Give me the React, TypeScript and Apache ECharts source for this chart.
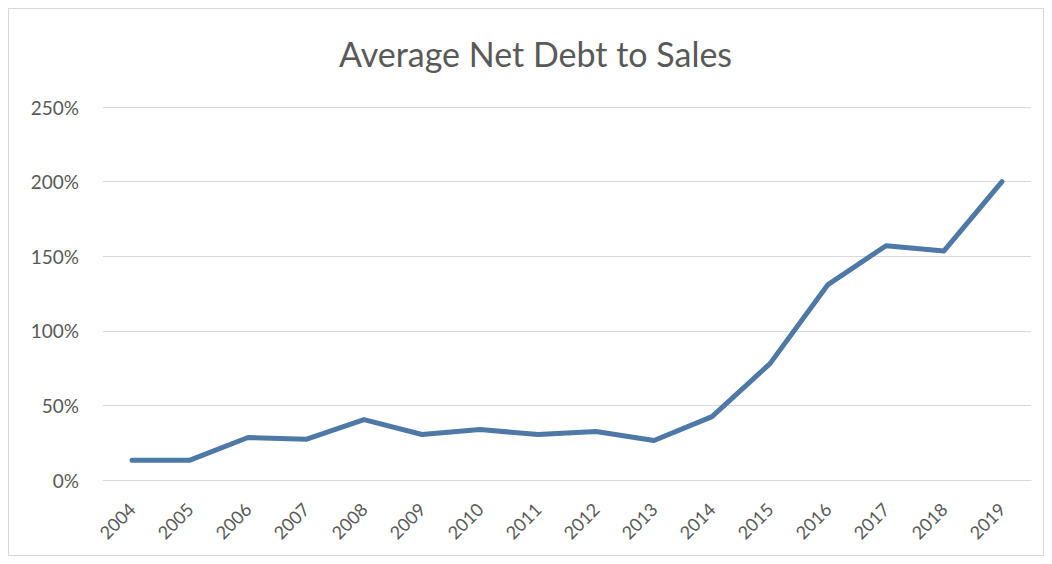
import React, { useEffect, useRef } from "react";
import * as echarts from "echarts";

const years = ["2004","2005","2006","2007","2008","2009","2010","2011","2012","2013","2014","2015","2016","2017","2018","2019"];
const netDebtToSales = [13.3, 13.3, 28.5, 27.3, 40.5, 30.5, 33.8, 30.5, 32.5, 26.5, 42.5, 78, 131, 157, 153.5, 200];
const yTicks = { min: 0, max: 250, interval: 50 };

export default function App() {
  const ref = useRef<HTMLDivElement>(null);
  useEffect(() => {
    const chart = echarts.init(ref.current!, null, { renderer: "svg" });
    chart.setOption({
      animation: false,
      backgroundColor: "#ffffff",
      title: {
        text: "Average Net Debt to Sales",
        left: 325,
        top: 22,
        textStyle: { fontFamily: "Lato", fontSize: 34, fontWeight: "normal", color: "#595959" },
      },
      grid: { left: 94, right: 12, top: 98, bottom: 75, containLabel: false },
      xAxis: {
        type: "category",
        data: years,
        boundaryGap: true,
        axisLine: { show: true, lineStyle: { color: "#d9d9d9", width: 1 } },
        axisTick: { show: false },
        axisLabel: {
          rotate: 45,
          color: "#595959",
          fontFamily: "Lato",
          fontSize: 18,
          margin: 26,
        },
      },
      yAxis: {
        type: "value",
        min: yTicks.min,
        max: yTicks.max,
        interval: yTicks.interval,
        axisLine: { show: false },
        axisTick: { show: false },
        splitLine: { lineStyle: { color: "#d9d9d9", width: 1 } },
        axisLabel: {
          color: "#595959",
          fontFamily: "Lato",
          fontSize: 19,
          margin: 24,
          formatter: (v: number) => `${v}%`,
        },
      },
      series: [
        {
          type: "line",
          data: netDebtToSales,
          symbol: "none",
          lineStyle: { color: "#4e79a7", width: 5, cap: "round", join: "round" },
        },
      ],
    });
    return () => chart.dispose();
  }, []);
  return (
    <div
      ref={ref}
      style={{ width: 1036, height: 548, border: "1px solid #d9d9d9", boxSizing: "border-box" }}
    />
  );
}
